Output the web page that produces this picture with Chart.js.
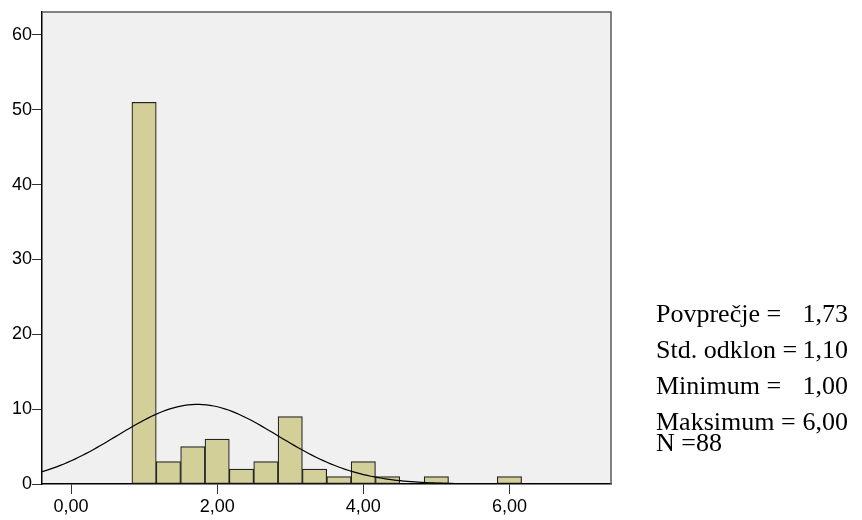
<!DOCTYPE html>
<html>
<head>
<meta charset="utf-8">
<script src="https://cdn.jsdelivr.net/npm/chart.js@4.4.1/dist/chart.umd.min.js"></script>
<style>
    html, body { margin: 0; padding: 0; background: #fff; }
    #wrap { width: 862px; height: 520px; }
</style>
</head>
<body>
<div id="wrap"><canvas id="histChart" width="862" height="520"></canvas></div>
<script>
// bin centres (bin width 1/3) and counts
const binCenters = [1, 1.333, 1.667, 2, 2.333, 2.667, 3, 3.333, 3.667, 4, 4.333, 4.667, 5, 5.333, 5.667, 6];
const binCounts = [51, 3, 5, 6, 2, 3, 9, 2, 1, 3, 1, null, 1, null, null, 1];
const xTicks = [0, 2, 4, 6];
const yTicks = [0, 10, 20, 30, 40, 50, 60];

// summary statistics shown at the right
const statLabels = ["Povprečje =", "Std. odklon =", "Minimum =", "Maksimum ="];
const statValues = ["1,73", "1,10", "1,00", "6,00"];
const nLabel = "N =88";
const mean = 1.73, sd = 1.10, n = 88, binWidth = 1 / 3;

const xMin = -0.397, xMax = 7.39;

// fitted normal curve from the stats above
const curve = [];
for (let x = xMin; x <= xMax + 0.001; x += 0.05) {
    const z = (x - mean) / sd;
    curve.push({ x: x, y: n * binWidth / (sd * Math.sqrt(2 * Math.PI)) * Math.exp(-z * z / 2) });
}

const plotFrame = {
    id: "plotFrame",
    beforeDraw(chart) {
        const { ctx, chartArea: a } = chart;
        ctx.save();
        ctx.fillStyle = "#f0f0f0";
        ctx.fillRect(a.left, a.top, a.right - a.left, a.bottom - a.top);
        ctx.restore();
    },
    afterDraw(chart) {
        const { ctx, chartArea: a } = chart;
        ctx.save();
        ctx.strokeStyle = "#5a5a5a";
        ctx.lineWidth = 1.5;
        ctx.beginPath();
        ctx.moveTo(a.left, a.top);
        ctx.lineTo(a.right, a.top);
        ctx.lineTo(a.right, a.bottom);
        ctx.stroke();

        ctx.fillStyle = "#000";
        ctx.font = "26px 'Liberation Serif', 'Times New Roman', serif";
        ctx.textBaseline = "alphabetic";
        const baselines = [322, 358, 394, 430];
        statLabels.forEach((lab, i) => {
            ctx.textAlign = "left";
            ctx.fillText(lab, 656, baselines[i]);
            ctx.textAlign = "right";
            ctx.fillText(statValues[i], 848, baselines[i]);
        });
        ctx.textAlign = "left";
        ctx.fillText(nLabel, 656, 451);
        ctx.restore();
    }
};

document.addEventListener("DOMContentLoaded", function () {
    const ctx = document.getElementById("histChart").getContext("2d");
    const tickFont = { family: "'Liberation Sans', Arial, sans-serif", size: 18 };

    new Chart(ctx, {
        data: {
            datasets: [{
                type: "line",
                data: curve,
                borderColor: "#000",
                borderWidth: 1.2,
                pointRadius: 0,
                tension: 0,
                fill: false,
                order: 0
            }, {
                type: "bar",
                data: binCenters.map((c, i) => ({ x: c, y: binCounts[i] })),
                backgroundColor: "#d3cf98",
                borderColor: "#222",
                borderWidth: 1.2,
                borderSkipped: false,
                barPercentage: 1.0,
                categoryPercentage: 1.0,
                order: 1
            }]
        },
        options: {
            responsive: false,
            animation: false,
            layout: { padding: { top: 12, right: 251, left: 0, bottom: 0 } },
            plugins: { legend: { display: false }, tooltip: { enabled: false } },
            scales: {
                x: {
                    type: "linear",
                    offset: false,
                    min: xMin,
                    max: xMax,
                    afterBuildTicks: s => { s.ticks = xTicks.map(v => ({ value: v })); },
                    afterFit: s => { s.height = 36; },
                    border: { color: "#000", width: 1.5 },
                    grid: { offset: false, drawOnChartArea: false, drawTicks: true, tickLength: 10, color: "#333" },
                    ticks: {
                        color: "#000",
                        font: tickFont,
                        padding: 2,
                        maxRotation: 0,
                        callback: v => v.toFixed(2).replace(".", ",")
                    }
                },
                y: {
                    min: 0,
                    max: 63.06,
                    afterBuildTicks: s => { s.ticks = yTicks.map(v => ({ value: v })); },
                    afterFit: s => { s.width = 42; },
                    border: { color: "#000", width: 1.5 },
                    grid: { drawOnChartArea: false, drawTicks: true, tickLength: 10, color: "#333" },
                    ticks: { color: "#000", font: tickFont, padding: 0 }
                }
            }
        },
        plugins: [plotFrame]
    });
});
</script>
</body>
</html>
